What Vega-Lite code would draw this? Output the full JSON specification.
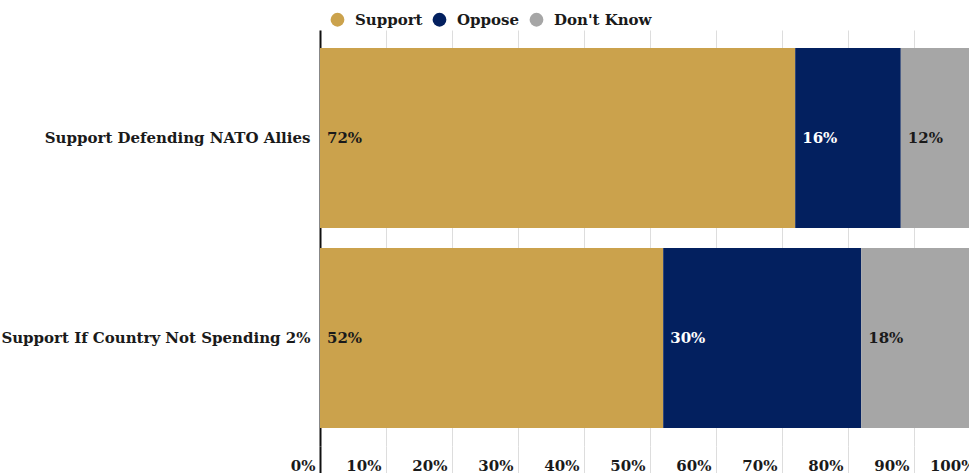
{
  "$schema": "https://vega.github.io/schema/vega-lite/v6.json",
  "autosize": {"type": "none"},
  "padding": {"left": 320, "top": 30, "right": 0, "bottom": 27},
  "width": 649,
  "height": 416,
  "background": "white",
  "config": {
    "view": {"stroke": null},
    "font": "DejaVu Serif"
  },
  "data": {
    "values": [
      {"question": "Support Defending NATO Allies", "response": "Support", "order": 1, "value": 0.72},
      {"question": "Support Defending NATO Allies", "response": "Oppose", "order": 2, "value": 0.16},
      {"question": "Support Defending NATO Allies", "response": "Don't Know", "order": 3, "value": 0.12},
      {"question": "Support If Country Not Spending 2%", "response": "Support", "order": 1, "value": 0.52},
      {"question": "Support If Country Not Spending 2%", "response": "Oppose", "order": 2, "value": 0.30},
      {"question": "Support If Country Not Spending 2%", "response": "Don't Know", "order": 3, "value": 0.18}
    ]
  },
  "transform": [
    {"stack": "value", "groupby": ["question"], "sort": [{"field": "order", "order": "ascending"}], "as": ["x0", "x1"]}
  ],
  "encoding": {
    "y": {
      "field": "question",
      "type": "nominal",
      "sort": ["Support Defending NATO Allies", "Support If Country Not Spending 2%"],
      "scale": {"paddingInner": 0.1, "paddingOuter": 0.09},
      "axis": {
        "title": null,
        "ticks": false,
        "domain": true,
        "domainColor": "#111111",
        "domainWidth": 2,
        "labelFont": "DejaVu Serif",
        "labelFontWeight": "bold",
        "labelFontSize": 15,
        "labelColor": "#1a1a1a",
        "labelPadding": 10,
        "labelLimit": 400
      }
    }
  },
  "layer": [
    {
      "mark": {"type": "bar"},
      "encoding": {
        "x": {
          "field": "x0",
          "type": "quantitative",
          "scale": {"domain": [0, 1], "range": [0, 660], "nice": false},
          "axis": {
            "title": null,
            "format": ".0%",
            "values": [0, 0.1, 0.2, 0.3, 0.4, 0.5, 0.6, 0.7, 0.8, 0.9, 1.0],
            "grid": true,
            "gridColor": "#dddddd",
            "gridWidth": 1,
            "domain": false,
            "ticks": true,
            "tickSize": 30,
            "tickColor": {"condition": {"test": "datum.value === 0", "value": "#111111"}, "value": "#dddddd"},
            "tickWidth": {"condition": {"test": "datum.value === 0", "value": 2}, "value": 1},
            "labelAlign": "right",
            "labelOffset": -5,
            "labelBaseline": "alphabetic",
            "labelPadding": -6,
            "labelFont": "DejaVu Serif",
            "labelFontWeight": "bold",
            "labelFontSize": 15,
            "labelColor": "#1a1a1a",
            "labelFlush": false,
            "labelOverlap": false
          }
        },
        "x2": {"field": "x1"},
        "color": {
          "field": "response",
          "type": "nominal",
          "scale": {"domain": ["Support", "Oppose", "Don't Know"], "range": ["#CBA24C", "#03205F", "#A6A6A6"]},
          "legend": {
            "title": null,
            "orient": "none",
            "direction": "horizontal",
            "legendX": 10,
            "legendY": -18,
            "symbolType": "circle",
            "symbolSize": 190,
            "symbolStrokeWidth": 0,
            "symbolOpacity": 1,
            "labelFont": "DejaVu Serif",
            "labelFontWeight": "bold",
            "labelFontSize": 15,
            "labelColor": "#1a1a1a",
            "labelOffset": 10,
            "columnPadding": 9
          }
        }
      }
    },
    {
      "mark": {"type": "text", "align": "left", "baseline": "middle", "dx": 7, "fontWeight": "bold", "fontSize": 15, "font": "DejaVu Serif"},
      "encoding": {
        "x": {"field": "x0", "type": "quantitative"},
        "text": {"field": "value", "type": "quantitative", "format": ".0%"},
        "color": {
          "condition": {"test": "datum.response === 'Oppose'", "value": "#ffffff"},
          "value": "#1a1a1a"
        }
      }
    }
  ]
}
